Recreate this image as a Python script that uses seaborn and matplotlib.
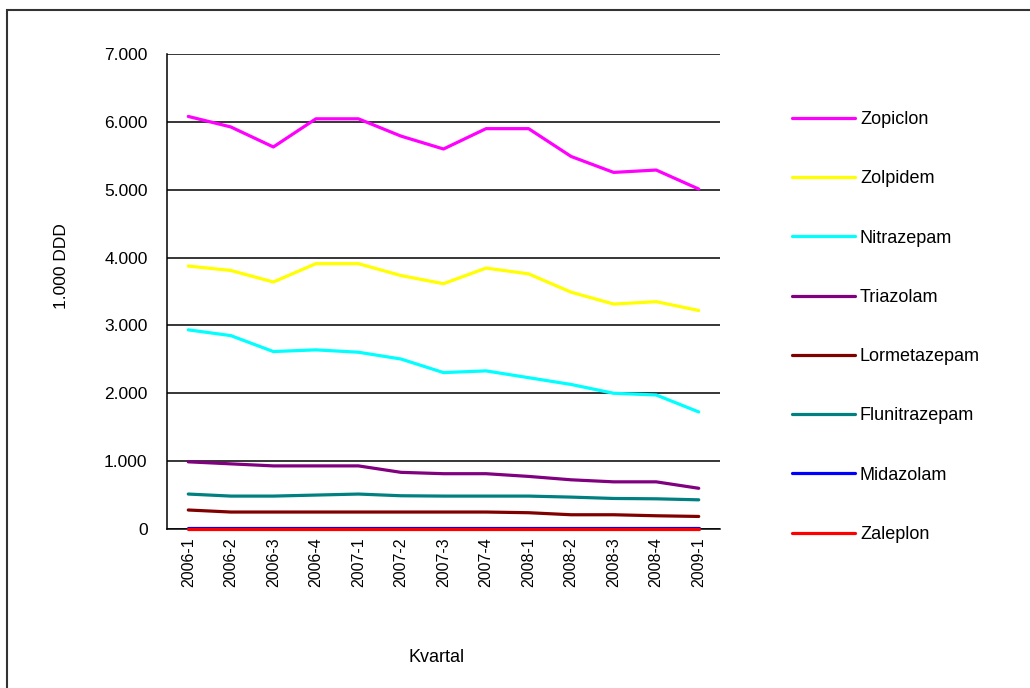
import pandas as pd
import matplotlib.pyplot as plt
import seaborn as sns
from matplotlib.patches import Rectangle
from matplotlib.ticker import FuncFormatter, FixedLocator

# Data (1.000 DDD per quarter)
quarters = ["2006-1", "2006-2", "2006-3", "2006-4", "2007-1", "2007-2", "2007-3",
            "2007-4", "2008-1", "2008-2", "2008-3", "2008-4", "2009-1"]
zopiclon = [6080, 5925, 5630, 6045, 6045, 5790, 5600, 5900, 5900, 5490, 5255, 5290, 5010]
zolpidem = [3875, 3810, 3640, 3910, 3910, 3735, 3615, 3845, 3760, 3490, 3315, 3350, 3220]
nitrazepam = [2935, 2850, 2615, 2640, 2605, 2505, 2305, 2330, 2230, 2130, 2000, 1975, 1725]
triazolam = [990, 960, 930, 930, 930, 835, 815, 815, 775, 725, 695, 695, 600]
lormetazepam = [280, 250, 250, 250, 250, 250, 250, 250, 240, 210, 210, 195, 185]
flunitrazepam = [515, 485, 485, 500, 515, 490, 485, 485, 485, 470, 450, 445, 430]
midazolam = [8, 8, 8, 8, 8, 8, 8, 8, 8, 8, 8, 8, 8]
zaleplon = [4, 4, 4, 4, 4, 4, 4, 4, 4, 4, 4, 4, 4]

drugs = ["Zopiclon", "Zolpidem", "Nitrazepam", "Triazolam", "Lormetazepam",
         "Flunitrazepam", "Midazolam", "Zaleplon"]
series = [zopiclon, zolpidem, nitrazepam, triazolam, lormetazepam,
          flunitrazepam, midazolam, zaleplon]
colors = ["#FF00FF", "#FFFF00", "#00FFFF", "#800080", "#800000",
          "#008080", "#0000FF", "#FF0000"]

rows = []
for name, vals in zip(drugs, series):
    for q, v in zip(quarters, vals):
        rows.append({"Kvartal": q, "DDD": v, "Drug": name})
df = pd.DataFrame(rows)

sns.set_style("white")
plt.rcParams['font.family'] = ['Liberation Sans', 'DejaVu Sans']
plt.rcParams['text.color'] = 'black'
plt.rcParams['xtick.color'] = 'black'
plt.rcParams['ytick.color'] = 'black'

fig = plt.figure(figsize=(10.3, 6.88), dpi=100)
ax = fig.add_axes([167 / 1030, 1 - 529 / 688, (720 - 167) / 1030, (529 - 54) / 688])

sns.lineplot(data=df, x="Kvartal", y="DDD", hue="Drug", hue_order=drugs,
             palette=dict(zip(drugs, colors)), linewidth=2.3, sort=False,
             ax=ax, legend=True)
for ln in ax.lines:
    ln.set_zorder(4)
    ln.set_clip_on(False)

ax.set_xlim(-0.5, len(quarters) - 0.5)
ax.set_ylim(0, 7000)
ax.set_yticks(range(0, 7001, 1000))
ax.yaxis.set_major_formatter(FuncFormatter(lambda v, p: "0" if v == 0 else f"{int(v):,}".replace(",", ".")))
ax.grid(axis="y", color="black", linewidth=1.1)
ax.set_axisbelow(True)

ax.set_xticks(range(len(quarters)))
ax.set_xticklabels(quarters, rotation=90)
ax.xaxis.set_minor_locator(FixedLocator([i - 0.5 for i in range(len(quarters) + 1)]))
ax.tick_params(axis="x", which="major", length=0, pad=6, labelsize=11.5)
ax.tick_params(axis="x", which="minor", length=5, width=1.1, direction="out", color="black")
ax.tick_params(axis="y", length=5, width=1.1, direction="out", color="black", pad=9, labelsize=12.5)

for s in ["top", "right"]:
    ax.spines[s].set_visible(False)
for s in ["left", "bottom"]:
    ax.spines[s].set_color("black")
    ax.spines[s].set_linewidth(1.1)

ax.set_xlabel("")
ax.set_ylabel("")
fig.text(437 / 1030, 1 - 657 / 688, "Kvartal", ha="center", va="center", fontsize=13)
fig.text(62 / 1030, 1 - 266 / 688, "1.000 DDD", ha="center", va="center", rotation=90, fontsize=12.5)

handles, labels = ax.get_legend_handles_labels()
ax.legend(handles, labels, loc="upper left", bbox_to_anchor=(785 / 1030, 1 - 104 / 688),
          bbox_transform=fig.transFigure, frameon=False, fontsize=13,
          handlelength=3.5, handletextpad=0.25, labelspacing=2.34, borderaxespad=0)

fig.patches.append(Rectangle((7 / 1030, -0.05), 1.1, 1 - 10 / 688 + 0.05,
                             transform=fig.transFigure, fill=False,
                             edgecolor="#333333", linewidth=1.5))

fig.savefig("out.png", dpi=100)
